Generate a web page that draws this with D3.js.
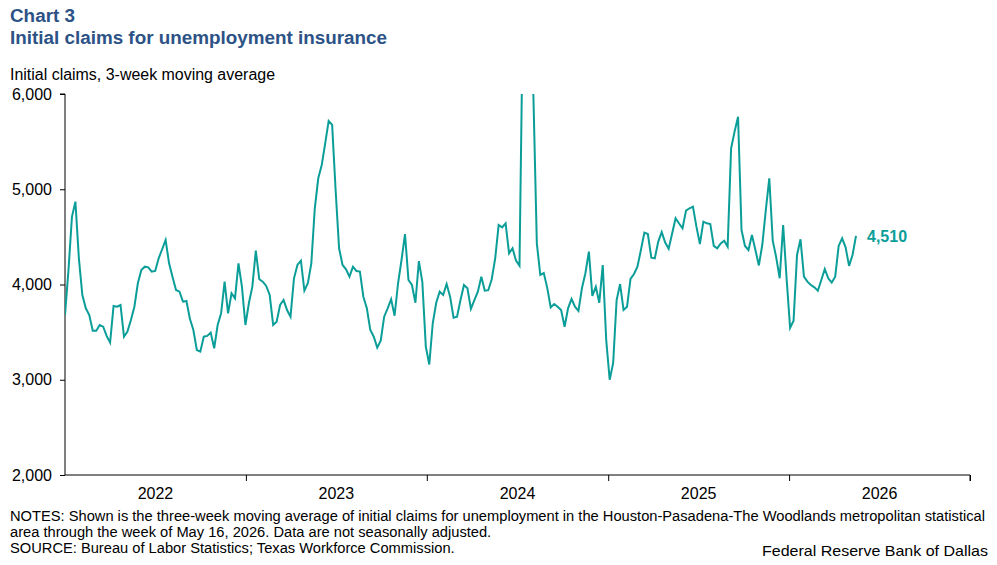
<!DOCTYPE html>
<html>
<head>
<meta charset="utf-8">
<script src="https://cdn.jsdelivr.net/npm/d3@7"></script>
<style>
  body { margin: 0; background: #fff; }
  text { font-family: "Liberation Sans", Arial, sans-serif; }
</style>
</head>
<body>
<svg id="chart" width="997" height="565"></svg>
<script>
// Weekly 3-week moving average of initial claims, weeks ending Saturdays
const firstWeek = "2022-01-01";
const claims = [
  3680, 4150, 4710, 4870, 4275, 3890, 3750, 3680, 3515, 3515,
  3575, 3557, 3460, 3390, 3775, 3767, 3785, 3452, 3505, 3627,
  3767, 4013, 4152, 4187, 4180, 4135, 4142, 4275, 4370, 4467,
  4222, 4080, 3942, 3925, 3820, 3827, 3640, 3522, 3312, 3295,
  3452, 3460, 3495, 3330, 3575, 3698, 4030, 3698, 3908, 3855,
  4222, 3977, 3575, 3803, 3977, 4355, 4055, 4030, 3985, 3890,
  3575, 3610, 3785, 3837, 3732, 3662, 4065, 4205, 4250, 3935,
  4013, 4222, 4800, 5115, 5255, 5482, 5717, 5675, 4992, 4380,
  4205, 4160, 4082, 4187, 4142, 4135, 3872, 3750, 3522, 3452,
  3337, 3410, 3662, 3750, 3845, 3672, 4013, 4257, 4530, 4047,
  3995, 3808, 4245, 4025, 3348, 3160, 3593, 3808, 3925, 3890,
  4005, 3872, 3652, 3662, 3837, 3995, 3960, 3745, 3837, 3925,
  4082, 3935, 3940, 4055, 4275, 4625, 4600, 4642, 4327, 4380,
  4250, 4197, 6900, 8900, 8900, 6000, 4432, 4100, 4120, 3965,
  3760, 3795, 3767, 3732, 3557, 3750, 3848, 3767, 3722, 3960,
  4118, 4345, 3880, 3977, 3808, 4205, 3417, 3000, 3175, 3837,
  4005, 3732, 3767, 4058, 4110, 4187, 4362, 4545, 4530, 4282,
  4275, 4450, 4550, 4440, 4375, 4535, 4695, 4640, 4590, 4775,
  4800, 4817, 4607, 4425, 4660, 4642, 4635, 4405, 4380, 4432,
  4460, 4397, 5430, 5605, 5762, 4572, 4405, 4362, 4520, 4362,
  4200, 4420, 4780, 5115, 4460, 4285, 4065, 4625, 4060, 3545,
  3620, 4310, 4475, 4082, 4030, 3995, 3970, 3935, 4047, 4162,
  4065, 4020, 4082, 4405, 4485, 4390, 4195, 4310, 4510
];
const yTicks = [2000, 3000, 4000, 5000, 6000];
const years = [2022, 2023, 2024, 2025, 2026];

const titleBlue = "#2c5286";
const teal = "#0b9e99";

const svg = d3.select("#chart");
svg.append("rect").attr("width", 997).attr("height", 565).attr("fill", "#fff");

const plot = {left: 65, right: 970, top: 94, bottom: 475};

const parseDate = d3.timeParse("%Y-%m-%d");
const start = parseDate(firstWeek);
const data = claims.map((v, i) => ({date: d3.timeDay.offset(start, i * 7), value: v}));

const x = d3.scaleTime()
    .domain([new Date(2022, 0, 1), new Date(2027, 0, 1)])
    .range([plot.left, plot.right]);
const y = d3.scaleLinear()
    .domain([2000, 6000])
    .range([plot.bottom, plot.top]);

// squeeze/stretch text to a target width
function fit(sel, w) {
    const len = sel.node().getComputedTextLength();
    sel.attr("textLength", w).attr("lengthAdjust", "spacingAndGlyphs");
    return w / len;
}

// Titles
fit(svg.append("text").attr("x", 10).attr("y", 22)
    .attr("font-size", 18).attr("font-weight", "bold").attr("fill", titleBlue)
    .text("Chart 3"), 65);
fit(svg.append("text").attr("x", 10).attr("y", 44)
    .attr("font-size", 18).attr("font-weight", "bold").attr("fill", titleBlue)
    .text("Initial claims for unemployment insurance"), 377);
fit(svg.append("text").attr("x", 10).attr("y", 80)
    .attr("font-size", 16).attr("fill", "#000")
    .text("Initial claims, 3-week moving average"), 265);

// Clip for line
svg.append("clipPath").attr("id", "clip")
  .append("rect")
    .attr("x", plot.left).attr("y", plot.top)
    .attr("width", plot.right - plot.left).attr("height", plot.bottom - plot.top);

// Y axis
const yAxis = d3.axisLeft(y)
    .tickValues(yTicks)
    .tickSize(5)
    .tickPadding(8)
    .tickFormat(d3.format(","));
const gy = svg.append("g")
    .attr("transform", `translate(${plot.left},0)`)
    .call(yAxis);
gy.select(".domain").attr("stroke", "#000").attr("d", `M-5,${plot.top}H0V${plot.bottom}`);
gy.selectAll(".tick line").attr("stroke", "#000");
gy.selectAll(".tick text")
    .attr("font-size", 16)
    .attr("fill", "#000")
    .style("font-family", "'Liberation Sans', Arial, sans-serif");

// X axis with year boundary ticks
const xAxis = d3.axisBottom(x)
    .ticks(d3.timeYear.every(1))
    .tickSize(6)
    .tickFormat("");
const gx = svg.append("g")
    .attr("transform", `translate(0,${plot.bottom})`)
    .call(xAxis);
gx.select(".domain").attr("stroke", "#000").attr("d", `M${plot.left},0H${plot.right}V6`);
gx.selectAll(".tick line").attr("stroke", "#000");
gx.selectAll(".tick").filter(d => d.getFullYear() === 2022).remove();

svg.append("g").selectAll("text")
    .data(years)
    .join("text")
    .attr("x", d => (x(new Date(d, 0, 1)) + x(new Date(d + 1, 0, 1))) / 2)
    .attr("y", 499)
    .attr("text-anchor", "middle")
    .attr("font-size", 16)
    .attr("fill", "#000")
    .text(d => d);

// Line
const line = d3.line()
    .x(d => x(d.date))
    .y(d => y(d.value));
svg.append("path")
    .datum(data)
    .attr("clip-path", "url(#clip)")
    .attr("fill", "none")
    .attr("stroke", teal)
    .attr("stroke-width", 2)
    .attr("stroke-linejoin", "miter")
    .attr("d", line);

// Last value label
const last = data[data.length - 1];
svg.append("text")
    .attr("x", x(last.date) + 11)
    .attr("y", y(last.value) + 6)
    .attr("font-size", 16)
    .attr("font-weight", "bold")
    .attr("fill", teal)
    .text(d3.format(",")(last.value));

// Notes
const n1 = svg.append("text").attr("x", 10).attr("y", 521).attr("font-size", 14).attr("fill", "#000")
    .text("NOTES: Shown is the three-week moving average of initial claims for unemployment in the Houston-Pasadena-The Woodlands metropolitan statistical");
const k = fit(n1, 975);
const n2 = svg.append("text").attr("x", 10).attr("y", 537).attr("font-size", 14).attr("fill", "#000")
    .text("area through the week of May 16, 2026. Data are not seasonally adjusted.");
n2.attr("textLength", n2.node().getComputedTextLength() * k).attr("lengthAdjust", "spacingAndGlyphs");
const n3 = svg.append("text").attr("x", 10).attr("y", 553).attr("font-size", 14).attr("fill", "#000")
    .text("SOURCE: Bureau of Labor Statistics; Texas Workforce Commission.");
n3.attr("textLength", n3.node().getComputedTextLength() * k).attr("lengthAdjust", "spacingAndGlyphs");

const fed = svg.append("text").attr("x", 762).attr("y", 556).attr("font-size", 15)
    .attr("fill", "#000")
    .text("Federal Reserve Bank of Dallas");
fit(fed, 226);
</script>
</body>
</html>
